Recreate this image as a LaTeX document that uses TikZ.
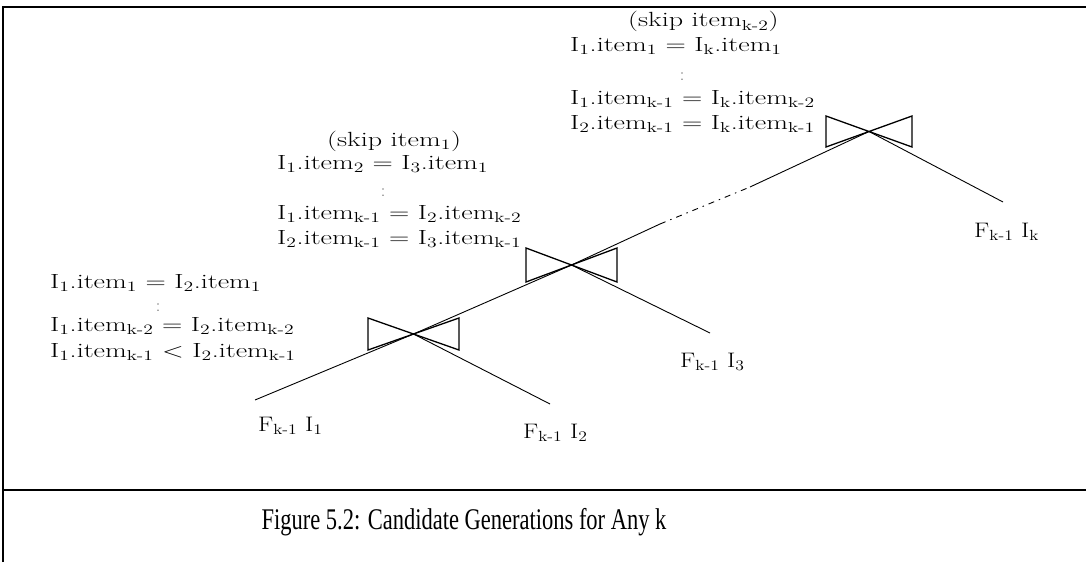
\documentclass[tikz,border=0pt]{standalone}
\usepackage{graphicx}
\usepackage{fontspec}
\newfontfamily\capfont{Liberation Serif}
\newcommand\sbs[1]{\textsubscript{#1}}
\newcommand\wide[1]{\scalebox{1.37}[1]{#1}}
\newcommand\lwide[1]{\scalebox{1.2}[1]{#1}}
\begin{document}
\begin{tikzpicture}[x=1pt,y=-1pt,
  txt/.style={anchor=base west,inner sep=0pt,font=\fontsize{20.5}{24}\selectfont},
  leaf/.style={anchor=base west,inner sep=0pt,font=\fontsize{21}{24}\selectfont},
  dotsn/.style={anchor=center,inner sep=0pt,font=\fontsize{18}{24}\selectfont,text=black!60},
  frame/.style={line width=2.8pt},
  link/.style={line width=0.9pt},
  bow/.style={line width=1.3pt,line join=miter}]
\useasboundingbox (0,0) rectangle (1086,562);
% frame
\draw[frame] (3,562) -- (3,7) -- (1086,7);
\draw[frame] (3,490) -- (1086,490);
% bowties
\draw[bow] (368,318) -- (459,350) -- (459,318) -- (368,350) -- cycle;
\draw[bow] (526,248) -- (617,282) -- (617,248) -- (526,282) -- cycle;
\draw[bow] (826,116) -- (912,147) -- (912,116) -- (826,147) -- cycle;
\coordinate (b1) at (413.5,334);
\coordinate (b2) at (571.5,265);
\coordinate (b3) at (869,131.5);
% leaf ends
\coordinate (e1) at (255,400);
\coordinate (e2) at (550,404);
\coordinate (e3) at (710,333);
\coordinate (ek) at (1003,202);
\coordinate (d1) at (660,224);
\coordinate (d2) at (750,187);
% connectors
\draw[link] (e1) -- (b1) -- (b2) -- (d1);
\draw[link,dash pattern=on 6pt off 5pt on 1.5pt off 5pt] (d1) -- (d2);
\draw[link] (d2) -- (b3);
\draw[link] (b1) -- (e2);
\draw[link] (b2) -- (e3);
\draw[link] (b3) -- (ek);
% leaf labels
\node[leaf] (f1) at (258,431) {\lwide{F\sbs{k-1} I\sbs{1}}};
\node[leaf] (f2) at (523,438) {\lwide{F\sbs{k-1} I\sbs{2}}};
\node[leaf] (f3) at (680,367) {\lwide{F\sbs{k-1} I\sbs{3}}};
\node[leaf] (fk) at (974,237) {\lwide{F\sbs{k-1} I\sbs{k}}};
% top block
\node[txt] (t0) at (628,27) {\wide{(skip item\sbs{k-2})}};
\node[txt] (t1) at (570,51) {\wide{I\sbs{1}.item\sbs{1} = I\sbs{k}.item\sbs{1}}};
\node[dotsn] (t2) at (682,77) {:};
\node[txt] (t3) at (570,104) {\wide{I\sbs{1}.item\sbs{k-1} = I\sbs{k}.item\sbs{k-2}}};
\node[txt] (t4) at (570,129) {\wide{I\sbs{2}.item\sbs{k-1} = I\sbs{k}.item\sbs{k-1}}};
% middle block
\node[txt] (m0) at (327,146) {\wide{(skip item\sbs{1})}};
\node[txt] (m1) at (277,169) {\wide{I\sbs{1}.item\sbs{2} = I\sbs{3}.item\sbs{1}}};
\node[dotsn] (m2) at (383,193) {:};
\node[txt] (m3) at (277,219) {\wide{I\sbs{1}.item\sbs{k-1} = I\sbs{2}.item\sbs{k-2}}};
\node[txt] (m4) at (277,244) {\wide{I\sbs{2}.item\sbs{k-1} = I\sbs{3}.item\sbs{k-1}}};
% left block
\node[txt] (a1) at (50,288) {\wide{I\sbs{1}.item\sbs{1} = I\sbs{2}.item\sbs{1}}};
\node[dotsn] (a2) at (158,308) {:};
\node[txt] (a3) at (50,331) {\wide{I\sbs{1}.item\sbs{k-2} = I\sbs{2}.item\sbs{k-2}}};
\node[txt] (a4) at (50,357) {\wide{I\sbs{1}.item\sbs{k-1} $<$ I\sbs{2}.item\sbs{k-1}}};
% caption
\node[inner sep=0pt,font=\capfont\fontsize{30}{34}\selectfont] (cap) at (464,522) {\scalebox{0.75}[1]{Figure 5.2: Candidate Generations for Any k}};
\end{tikzpicture}
\end{document}
